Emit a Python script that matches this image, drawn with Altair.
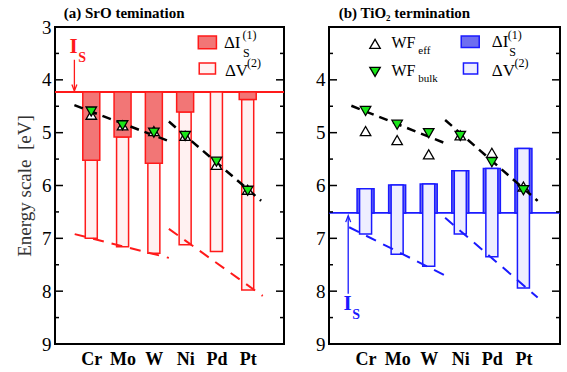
import altair as alt
import pandas as pd

FONT = "Liberation Serif"

metals = ["Cr", "Mo", "W", "Ni", "Pd", "Pt"]
xpos = [1, 2, 3, 4, 5, 6]

# ---------------- (a) SrO termination ----------------
a_is_level = 4.23
a_dI_end = [5.52, 5.08, 5.58, 4.61, 4.23, 4.37]
a_dV_end = [7.00, 7.16, 7.28, 7.12, 7.25, 7.98]
a_wf_eff = [4.66, 4.86, 4.97, 5.06, 5.61, 6.08]
a_wf_bulk = [4.60, 4.86, 5.00, 5.06, 5.55, 6.10]
a_black_x = [0.46, 3.48, 3.48, 6.43]
a_black_y = [4.48, 5.16, 4.79, 6.29]
a_red_x = [0.47, 3.48, 3.48, 6.48]
a_red_y = [6.92, 7.37, 6.82, 8.09]

# ---------------- (b) TiO2 termination ----------------
b_is_level = 6.52
b_dI_top = [6.06, 5.99, 5.97, 5.72, 5.68, 5.30]
b_dV_end = [6.92, 7.30, 7.53, 6.92, 7.35, 7.94]
b_wf_eff = [4.97, 5.14, 5.41, 5.05, 5.38, 6.02]
b_wf_bulk = [4.59, 4.85, 5.01, 5.06, 5.56, 6.09]
b_black_x = [0.55, 3.48, 3.52, 6.45]
b_black_y = [4.49, 5.19, 4.76, 6.29]
b_blue_x = [0.48, 3.48, 3.52, 6.45]
b_blue_y = [6.79, 7.69, 6.61, 8.12]

seg_id = [0, 0, 1, 1]
major_ticks = [3, 4, 5, 6, 7, 8, 9]
minor_ticks = [3.5, 4.5, 5.5, 6.5, 7.5, 8.5]

H = 317
WA = 229
WB = 231

xs = alt.Scale(domain=[0, 7], nice=False, zero=False)
ys = alt.Scale(domain=[3, 9], reverse=True, nice=False, zero=False)

label_expr = "[" + ",".join("'%s'" % m for m in metals) + "][datum.value - 1]"

XAX = alt.Axis(values=xpos, labelExpr=label_expr, ticks=False, domain=False, grid=False,
               labelFont=FONT, labelFontSize=18, labelFontWeight="bold", labelColor="black",
               labelPadding=6, title=None)


def make_yax(values, title):
    return alt.Axis(values=values, ticks=False, domain=False, grid=False, labelFont=FONT,
                    labelFontSize=19, labelColor="black", labelPadding=4, title=title,
                    titleFont=FONT, titleFontSize=19, titleFontWeight="normal",
                    titleColor="#333333", titlePadding=7)


CUR = {"yax": None}


def X(field="x"):
    return alt.X(f"{field}:Q", scale=xs, axis=XAX)


def Y(field="y"):
    return alt.Y(f"{field}:Q", scale=ys, axis=CUR["yax"])


def tick_layers(width):
    dmaj = pd.DataFrame({"t": major_ticks})
    dmin = pd.DataFrame({"t": minor_ticks})
    layers = []
    for d, ln in ((dmaj, 8), (dmin, 4)):
        layers.append(alt.Chart(d).mark_rule(color="black", strokeWidth=1.5).encode(
            y=Y("t"), x=alt.value(0), x2=alt.value(ln)))
        layers.append(alt.Chart(d).mark_rule(color="black", strokeWidth=1.5).encode(
            y=Y("t"), x=alt.value(width - ln), x2=alt.value(width)))
    return layers


def text_layer(x, y, texts, size, color="black", weight="normal", align="left"):
    d = pd.DataFrame({"x": x, "y": y, "t": texts})
    return alt.Chart(d).mark_text(font=FONT, fontSize=size, color=color, fontWeight=weight,
                                  align=align, baseline="middle").encode(
        x=X(), y=Y(), text="t:N")


def rect_layer(x, x2, y, y2, fill, stroke):
    d = pd.DataFrame({"x": [x], "x2": [x2], "y": [y], "y2": [y2]})
    return alt.Chart(d).mark_rect(fill=fill, stroke=stroke, strokeWidth=1.5).encode(
        x=X(), x2="x2:Q", y=Y(), y2="y2:Q")


def dashed(xv, yv, color, width, dash):
    d = pd.DataFrame({"x": xv, "y": yv, "seg": seg_id})
    return alt.Chart(d).mark_line(color=color, strokeWidth=width, strokeDash=dash).encode(
        x=X(), y=Y(), detail="seg:N")


def tri(d, xf, yf, up, size=110):
    if up:
        return alt.Chart(d).mark_point(shape="triangle-up", filled=True, fill="white", stroke="black",
                                       strokeWidth=1.3, size=size, opacity=1).encode(x=X(xf), y=Y(yf))
    return alt.Chart(d).mark_point(shape="triangle-down", filled=True, fill="#19e619", stroke="black",
                                   strokeWidth=1.3, size=size, opacity=1).encode(x=X(xf), y=Y(yf))


def markers(eff, bulk):
    d = pd.DataFrame({"x": xpos, "eff": eff, "bulk": bulk})
    return [tri(d, "x", "eff", True), tri(d, "x", "bulk", False)]


# ---------------- panel (a) ----------------
CUR["yax"] = make_yax(major_ticks, "Energy scale\u00a0\u00a0[eV]")
RED = "#ff1a1a"
dfa = pd.DataFrame({"x": xpos, "is": [a_is_level] * 6, "dI": a_dI_end, "dV": a_dV_end})

a_line = alt.Chart(pd.DataFrame({"y": [a_is_level]})).mark_rule(color=RED, strokeWidth=1.8).encode(
    y=Y(), x=alt.value(0), x2=alt.value(WA))
a_narrow = alt.Chart(dfa).mark_bar(orient="vertical", size=12, fill="#fff1f1", stroke=RED,
                                   strokeWidth=1.5).encode(x=X(), y=Y("dI"), y2="dV:Q")
a_wide = alt.Chart(dfa).transform_filter("datum.dI > datum.is + 0.01").mark_bar(
    orient="vertical", size=17, fill="#f27676", stroke=RED, strokeWidth=1.5).encode(
    x=X(), y=Y("is"), y2="dI:Q")

a_arrow = alt.Chart(pd.DataFrame({"x": [0.46], "y": [3.62], "y2": [4.2]})).mark_rule(
    color=RED, strokeWidth=1.3).encode(x=X(), y=Y(), y2="y2:Q")
a_head = alt.Chart(pd.DataFrame({"x": [0.46], "y": [4.21]})).mark_point(
    shape="M-1,-2.6L0,0L1,-2.6", filled=False, stroke=RED, strokeWidth=1.3, size=25, opacity=1).encode(
    x=X(), y=Y())

panel_a = alt.layer(
    a_line, a_narrow, a_wide,
    dashed(a_black_x, a_black_y, "black", 2.5, [9, 6]),
    dashed(a_red_x, a_red_y, RED, 2, [11, 8]),
    *markers(a_wf_eff, a_wf_bulk),
    a_arrow, a_head,
    text_layer([0.3], [3.37], ["I"], 21, RED, "bold"),
    text_layer([0.58], [3.58], ["S"], 14, RED, "bold"),
    rect_layer(4.42, 5.0, 3.17, 3.41, "#f27676", RED),
    rect_layer(4.45, 4.97, 3.68, 3.89, "#fff1f1", RED),
    text_layer([5.24], [3.31], ["\u0394I"], 17),
    text_layer([5.83], [3.15], ["(1)"], 12),
    text_layer([5.85], [3.49], ["S"], 12),
    text_layer([5.27], [3.84], ["\u0394V"], 17),
    text_layer([5.98], [3.69], ["(2)"], 12),
    text_layer([0.12], [2.74], ["(a) SrO temination"], 15, "black", "bold"),
    *tick_layers(WA),
).properties(width=WA, height=H)

# ---------------- panel (b) ----------------
CUR["yax"] = make_yax(major_ticks[1:], None)
BLUE = "#1a1aff"
dfb = pd.DataFrame({"x": xpos, "is": [b_is_level] * 6, "dI": b_dI_top, "dV": b_dV_end})

b_line = alt.Chart(pd.DataFrame({"y": [b_is_level]})).mark_rule(color=BLUE, strokeWidth=1.8).encode(
    y=Y(), x=alt.value(0), x2=alt.value(WB))
b_wide = alt.Chart(dfb).mark_bar(orient="vertical", size=17, fill="#6e6ef0", stroke=BLUE,
                                 strokeWidth=1.5).encode(x=X(), y=Y("is"), y2="dI:Q")
b_narrow = alt.Chart(dfb).mark_bar(orient="vertical", size=12, fill="#eeeeff", stroke=BLUE,
                                   strokeWidth=1.5).encode(x=X(), y=Y("dI"), y2="dV:Q")

b_arrow = alt.Chart(pd.DataFrame({"x": [0.45], "y": [6.6], "y2": [8.05]})).mark_rule(
    color=BLUE, strokeWidth=1.3).encode(x=X(), y=Y(), y2="y2:Q")
b_head = alt.Chart(pd.DataFrame({"x": [0.45], "y": [6.57]})).mark_point(
    shape="M-1,2.6L0,0L1,2.6", filled=False, stroke=BLUE, strokeWidth=1.3, size=25, opacity=1).encode(
    x=X(), y=Y())

leg_tri = pd.DataFrame({"x": [1.3], "y1": [3.32], "y2": [3.85]})

panel_b = alt.layer(
    b_line, b_wide, b_narrow,
    dashed(b_black_x, b_black_y, "black", 2.5, [9, 6]),
    dashed(b_blue_x, b_blue_y, BLUE, 2, [11, 8]),
    *markers(b_wf_eff, b_wf_bulk),
    b_arrow, b_head,
    text_layer([0.3], [8.25], ["I"], 21, BLUE, "bold"),
    text_layer([0.58], [8.46], ["S"], 14, BLUE, "bold"),
    tri(leg_tri, "x", "y1", True),
    tri(leg_tri, "x", "y2", False),
    text_layer([1.82], [3.31], ["WF"], 16),
    text_layer([2.67], [3.45], ["eff"], 11),
    text_layer([1.82], [3.84], ["WF"], 16),
    text_layer([2.67], [3.98], ["bulk"], 11),
    rect_layer(4.03, 4.6, 3.17, 3.39, "#6e6ef0", BLUE),
    rect_layer(4.1, 4.55, 3.68, 3.89, "#eeeeff", BLUE),
    text_layer([5.0], [3.29], ["\u0394I"], 17),
    text_layer([5.5], [3.15], ["(1)"], 12),
    text_layer([5.55], [3.47], ["S"], 12),
    text_layer([5.0], [3.84], ["\u0394V"], 17),
    text_layer([5.72], [3.69], ["(2)"], 12),
    text_layer([0.15], [2.74], ["(b) TiO\u2082 termination"], 15, "black", "bold"),
    *tick_layers(WB),
).properties(width=WB, height=H)

chart = alt.hconcat(panel_a, panel_b, spacing=45, bounds="flush").configure_view(
    stroke="black", strokeWidth=2
).properties(padding={"left": 14, "top": 5, "right": 5, "bottom": 5})

chart.save("out.html", embed_options={"renderer": "svg", "actions": False})
